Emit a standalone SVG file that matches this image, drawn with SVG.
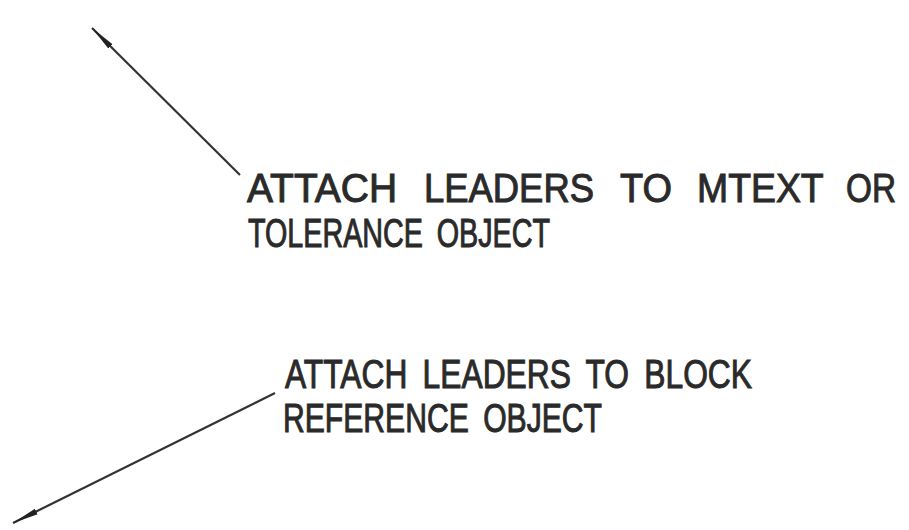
<svg xmlns="http://www.w3.org/2000/svg" width="909" height="530" viewBox="0 0 909 530">
  <defs>
    <marker id="arrow" viewBox="0 0 26 8" refX="26" refY="4" markerUnits="userSpaceOnUse" markerWidth="26" markerHeight="8" orient="auto-start-reverse">
      <path d="M0,1 L26,4 L0,7 Z" fill="#222"/>
    </marker>
    <style>
      .lead { stroke: #333; stroke-width: 2.2; fill: none; marker-start: url(#arrow); }
      .lbl { font-family: "Liberation Sans", Arial, sans-serif; font-size: 40px; fill: #2a2a2a; stroke: #2a2a2a; stroke-width: 1; }
      .ws { word-spacing: 8px; }
    </style>
  </defs>
  <rect width="909" height="530" fill="#ffffff"/>
  <g id="connectors">
    <path class="lead" d="M92,28 L240,175"/>
    <path class="lead" d="M13,523 L275,393"/>
  </g>
  <g id="label-mtext">
    <text class="lbl" y="202"><tspan x="247" textLength="150" lengthAdjust="spacingAndGlyphs">ATTACH</tspan> <tspan x="424" textLength="170" lengthAdjust="spacingAndGlyphs">LEADERS</tspan> <tspan x="620" textLength="52" lengthAdjust="spacingAndGlyphs">TO</tspan> <tspan x="697" textLength="126" lengthAdjust="spacingAndGlyphs">MTEXT</tspan> <tspan x="846" textLength="50" lengthAdjust="spacingAndGlyphs">OR</tspan></text>
    <text class="lbl ws" x="248" y="247" textLength="302" lengthAdjust="spacingAndGlyphs">TOLERANCE OBJECT</text>
  </g>
  <g id="label-block">
    <text class="lbl ws" x="285" y="388" textLength="467" lengthAdjust="spacingAndGlyphs">ATTACH LEADERS TO BLOCK</text>
    <text class="lbl ws" x="283" y="432" textLength="319" lengthAdjust="spacingAndGlyphs">REFERENCE OBJECT</text>
  </g>
</svg>
